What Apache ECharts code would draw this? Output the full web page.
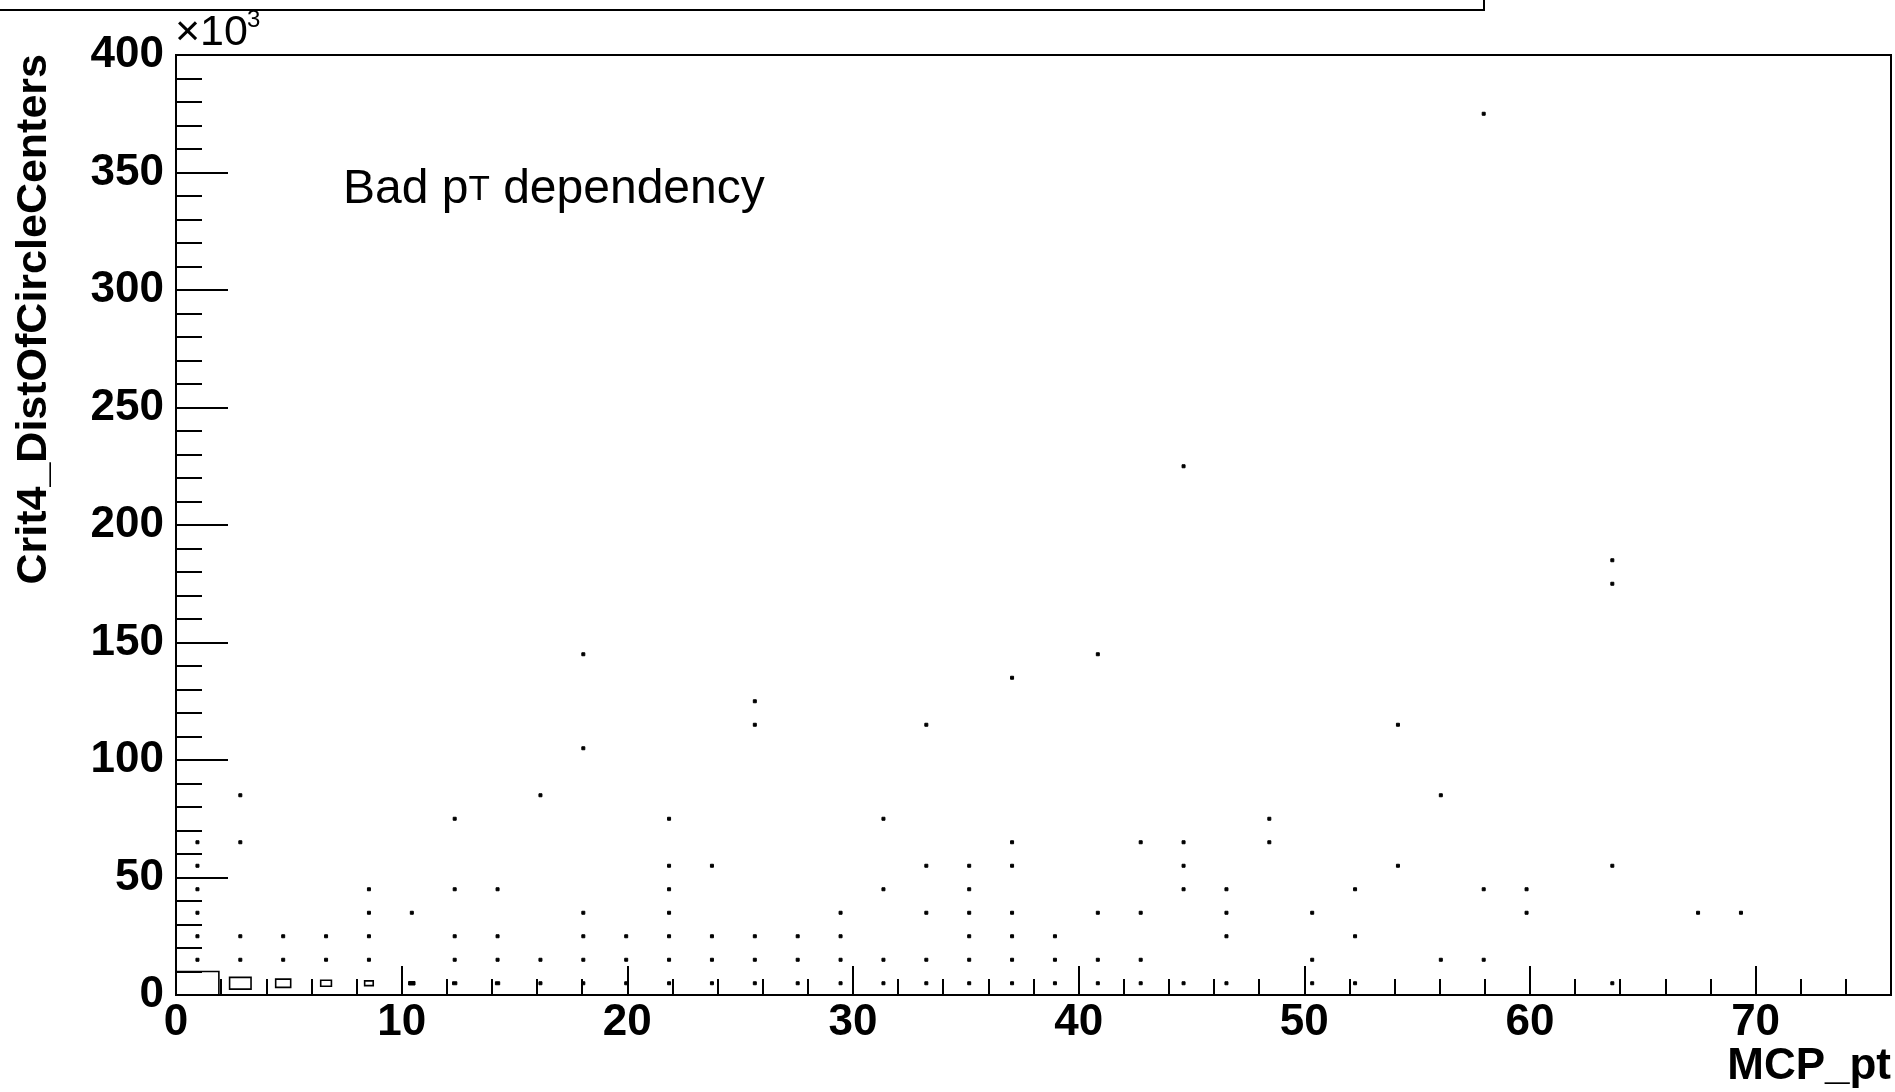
<!DOCTYPE html>
<html>
<head>
<meta charset="utf-8">
<title>Crit4_DistOfCircleCenters vs MCP_pt</title>
<script src="https://cdn.jsdelivr.net/npm/echarts@6/dist/echarts.min.js"></script>
<style>
  html, body { margin: 0; padding: 0; background: #fff; }
  #chart { width: 1895px; height: 1092px; }
</style>
</head>
<body>
<div id="chart"></div>
<script>
// bin sizes of the 2D histogram (x: MCP_pt, y: Crit4_DistOfCircleCenters in 10^3)
var X_BIN = 1.9;
var Y_BIN = 10;

var xRange = [0, 76];
var yRange = [0, 400];
var xMajor = 10, xMinor = 2;
var yMajor = 50;

var xTitle = 'MCP_pt';
var yTitle = 'Crit4_DistOfCircleCenters';

// cells: [pt bin centre, dist bin centre (x10^3), entries]
var cells = [
  [0.95, 5, 20], [0.95, 15, 1], [0.95, 25, 1], [0.95, 35, 1], [0.95, 45, 1], [0.95, 55, 1], [0.95, 65, 1],
  [2.85, 5, 10], [2.85, 15, 1], [2.85, 25, 1], [2.85, 65, 1], [2.85, 85, 1],
  [4.75, 5, 7], [4.75, 15, 1], [4.75, 25, 1],
  [6.65, 5, 5], [6.65, 15, 1], [6.65, 25, 1],
  [8.55, 5, 4], [8.55, 15, 1], [8.55, 25, 1], [8.55, 35, 1], [8.55, 45, 1],
  [10.45, 5, 3], [10.45, 35, 1],
  [12.35, 5, 2], [12.35, 15, 1], [12.35, 25, 1], [12.35, 45, 1], [12.35, 75, 1],
  [14.25, 5, 2], [14.25, 15, 1], [14.25, 25, 1], [14.25, 45, 1],
  [16.15, 5, 1], [16.15, 15, 1], [16.15, 85, 1],
  [18.05, 5, 1], [18.05, 15, 1], [18.05, 25, 1], [18.05, 35, 1], [18.05, 105, 1], [18.05, 145, 1],
  [19.95, 5, 1], [19.95, 15, 1], [19.95, 25, 1],
  [21.85, 5, 1], [21.85, 15, 1], [21.85, 25, 1], [21.85, 35, 1], [21.85, 45, 1], [21.85, 55, 1], [21.85, 75, 1],
  [23.75, 5, 1], [23.75, 15, 1], [23.75, 25, 1], [23.75, 55, 1],
  [25.65, 5, 1], [25.65, 15, 1], [25.65, 25, 1], [25.65, 115, 1], [25.65, 125, 1],
  [27.55, 5, 1], [27.55, 15, 1], [27.55, 25, 1],
  [29.45, 5, 1], [29.45, 15, 1], [29.45, 25, 1], [29.45, 35, 1],
  [31.35, 5, 1], [31.35, 15, 1], [31.35, 45, 1], [31.35, 75, 1],
  [33.25, 5, 1], [33.25, 15, 1], [33.25, 35, 1], [33.25, 55, 1], [33.25, 115, 1],
  [35.15, 5, 1], [35.15, 15, 1], [35.15, 25, 1], [35.15, 35, 1], [35.15, 45, 1], [35.15, 55, 1],
  [37.05, 5, 1], [37.05, 15, 1], [37.05, 25, 1], [37.05, 35, 1], [37.05, 55, 1], [37.05, 65, 1], [37.05, 135, 1],
  [38.95, 5, 1], [38.95, 15, 1], [38.95, 25, 1],
  [40.85, 5, 1], [40.85, 15, 1], [40.85, 35, 1], [40.85, 145, 1],
  [42.75, 5, 1], [42.75, 15, 1], [42.75, 35, 1], [42.75, 65, 1],
  [44.65, 5, 1], [44.65, 45, 1], [44.65, 55, 1], [44.65, 65, 1], [44.65, 225, 1],
  [46.55, 5, 1], [46.55, 25, 1], [46.55, 35, 1], [46.55, 45, 1],
  [48.45, 65, 1], [48.45, 75, 1],
  [50.35, 5, 1], [50.35, 15, 1], [50.35, 35, 1],
  [52.25, 5, 1], [52.25, 25, 1], [52.25, 45, 1],
  [54.15, 55, 1], [54.15, 115, 1],
  [56.05, 15, 1], [56.05, 85, 1],
  [57.95, 15, 1], [57.95, 45, 1], [57.95, 375, 1],
  [59.85, 35, 1], [59.85, 45, 1],
  [63.65, 5, 1], [63.65, 55, 1], [63.65, 175, 1], [63.65, 185, 1],
  [67.45, 35, 1],
  [69.35, 35, 1]
];

var FONT = '"Liberation Sans", Arial, Helvetica, sans-serif';
var maxCount = Math.max.apply(null, cells.map(function (c) { return c[2]; }));

var chart = echarts.init(document.getElementById('chart'), null, { renderer: 'canvas' });

var tickStyle = { color: '#000', width: 2 };
var labelStyle = { color: '#000', fontFamily: FONT, fontWeight: 'bold', fontSize: 44 };

chart.setOption({
  animation: false,
  backgroundColor: '#fff',
  grid: {
    left: 176,
    right: 4,
    top: 55,
    bottom: 97,
    show: true,
    borderColor: '#000',
    borderWidth: 2,
    backgroundColor: 'transparent'
  },
  xAxis: [
    {
      type: 'value',
      position: 'bottom',
      min: xRange[0],
      max: xRange[1],
      interval: xMajor,
      axisLine: { show: true, onZero: false, lineStyle: tickStyle },
      axisTick: { show: true, inside: true, length: 29, lineStyle: tickStyle },
      axisLabel: Object.assign({ margin: 6, showMaxLabel: false }, labelStyle),
      splitLine: { show: false }
    },
    {
      // minor ticks of the x axis (every 2)
      type: 'value',
      position: 'bottom',
      min: xRange[0],
      max: xRange[1],
      interval: xMinor,
      axisLine: { show: false, onZero: false },
      axisTick: { show: true, inside: true, length: 16, lineStyle: tickStyle },
      axisLabel: { show: false },
      splitLine: { show: false }
    }
  ],
  yAxis: {
    type: 'value',
    min: yRange[0],
    max: yRange[1],
    interval: yMajor,
    axisLine: { show: true, lineStyle: tickStyle },
    axisTick: { show: true, inside: true, length: 52, lineStyle: tickStyle },
    minorTick: { show: true, splitNumber: 5, length: 26, lineStyle: tickStyle },
    axisLabel: Object.assign({ margin: 12 }, labelStyle),
    splitLine: { show: false }
  },
  series: [{
    type: 'custom',
    xAxisIndex: 0,
    yAxisIndex: 0,
    clip: false,
    data: cells,
    renderItem: function (params, api) {
      var c = api.coord([api.value(0), api.value(1)]);
      var s = api.size([X_BIN, Y_BIN]);
      var r = api.value(2) / maxCount;
      var w = Math.max(s[0] * r, 3);
      var h = Math.max(s[1] * r, 3);
      // tiny boxes come out as solid dots
      var solid = h < 4;
      return {
        type: 'rect',
        shape: { x: c[0] - w / 2, y: c[1] - h / 2, width: w, height: h },
        style: { fill: solid ? '#000' : null, stroke: '#000', lineWidth: solid ? 1 : 1.6 }
      };
    }
  }],
  graphic: [
    // edge of the title box cut by the top of the canvas
    {
      type: 'rect',
      shape: { x: -10, y: -10, width: 1494, height: 20 },
      style: { fill: null, stroke: '#000', lineWidth: 2 }
    },
    {
      type: 'text',
      x: 175, y: 33,
      style: { text: '×10', fontFamily: FONT, fontSize: 43, fill: '#000', verticalAlign: 'middle', align: 'left' }
    },
    {
      type: 'text',
      x: 247, y: 20,
      style: { text: '3', fontFamily: FONT, fontSize: 24, fill: '#000', verticalAlign: 'middle', align: 'left' }
    },
    {
      type: 'text',
      x: 34, y: 54,
      rotation: Math.PI / 2,
      style: { text: yTitle, fontFamily: FONT, fontWeight: 'bold', fontSize: 43, fill: '#000', align: 'right', verticalAlign: 'middle' }
    },
    {
      type: 'text',
      x: 1891, y: 1067,
      style: { text: xTitle, fontFamily: FONT, fontWeight: 'bold', fontSize: 44, fill: '#000', align: 'right', verticalAlign: 'middle' }
    },
    {
      type: 'text',
      x: 343, y: 190,
      style: {
        text: 'Bad p{s|T} dependency',
        fontFamily: FONT,
        fontSize: 48,
        fill: '#000',
        align: 'left',
        verticalAlign: 'middle',
        rich: {
          s: { fontFamily: FONT, fontSize: 35, fill: '#000' }
        }
      }
    }
  ]
});
</script>
</body>
</html>
